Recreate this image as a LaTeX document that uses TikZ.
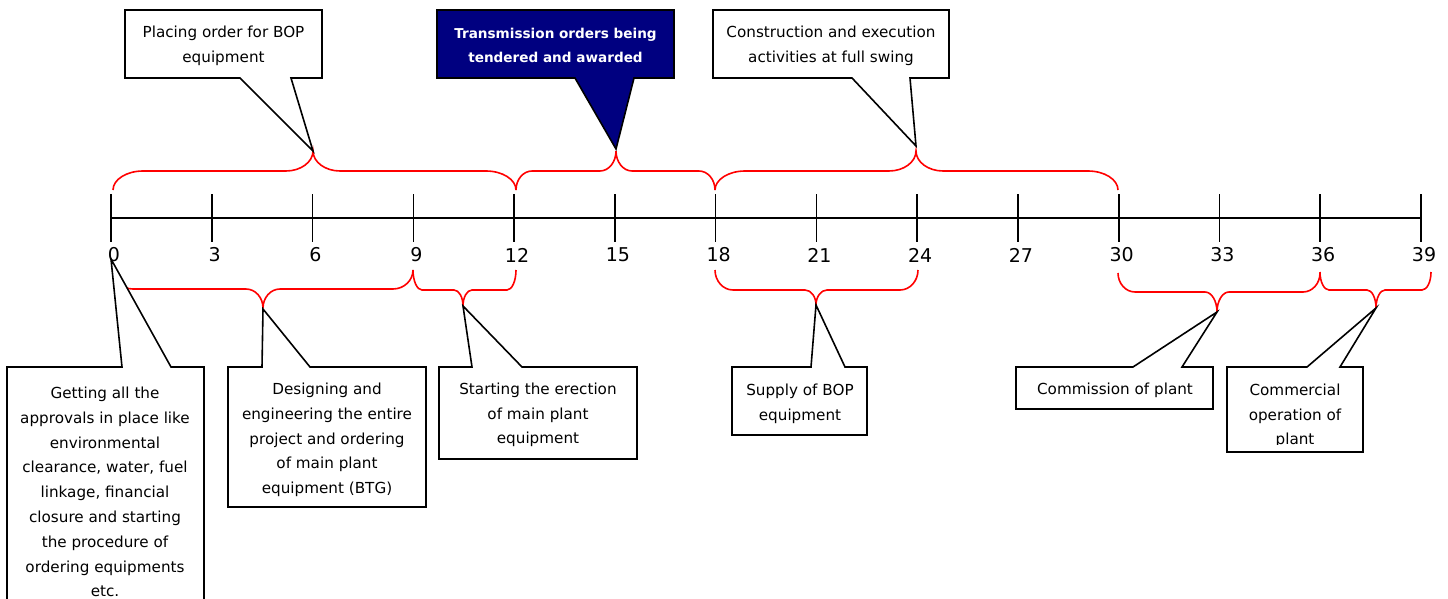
\documentclass[tikz,border=0pt]{standalone}
\usepackage{fontspec}
\setmainfont{DejaVu Sans}
\definecolor{navyfill}{RGB}{0,0,128}
\newcommand\bodyfont{\fontsize{15.2}{24.8}\selectfont}
\newcommand\boldfont{\fontsize{13.6}{24.8}\selectfont\bfseries}
\newcommand\labfont{\fontsize{19}{22}\selectfont}
% brace: x1, x2, xtip, yend, ymid, ytip, corner r, tip s
\newcommand\redbrace[8]{%
  \draw[bracestyle] (#1,#4) .. controls (#1,{#4+0.55*(#5-#4)}) and ({#1+0.45*#7},#5) .. ({#1+#7},#5)
   -- ({#3-#8},#5) .. controls ({#3-0.45*#8},#5) and (#3,{#6+0.55*(#5-#6)}) .. (#3,#6)
   .. controls (#3,{#6+0.55*(#5-#6)}) and ({#3+0.45*#8},#5) .. ({#3+#8},#5)
   -- ({#2-#7},#5) .. controls ({#2-0.45*#7},#5) and (#2,{#4+0.55*(#5-#4)}) .. (#2,#4);}
% top callout: L R T B b1 b2 tip style
\newcommand\topcall[8]{%
  \draw[#8] (#1,#3) -- (#2,#3) -- (#2,#4) -- (#6,#4) -- (#7) -- (#5,#4) -- (#1,#4) -- cycle;}
% bottom callout: L R T B b1 b2 tip
\newcommand\botcall[7]{%
  \draw[callout] (#1,#3) -- (#5,#3) -- (#7) -- (#6,#3) -- (#2,#3) -- (#2,#4) -- (#1,#4) -- cycle;}
\tikzset{
  callout/.style={draw=black, line width=1.6pt, fill=white, line join=miter},
  navycall/.style={callout, fill=navyfill},
  bracestyle/.style={draw=red, line width=1.6pt},
  axisline/.style={draw=black, line width=1.2pt},
  tickline/.style={draw=black, line width=1.6pt},
  txt/.style={align=center, inner sep=0pt, font=\bodyfont},
  btxt/.style={align=center, inner sep=0pt, font=\boldfont, text=white},
  ticklabel/.style={inner sep=0pt, font=\labfont},
}
\begin{document}
\begin{tikzpicture}[x=1pt,y=-1pt]
\useasboundingbox (0,0) rectangle (1448,599);
\fill[white] (0,0) rectangle (1448,599);

% axis
\foreach \k [evaluate=\k as \v using int(3*\k)] in {0,...,13}{
  \coordinate (a\k) at ({111+\k*100.769},218);
  \draw[tickline] ({111+\k*100.769},194) -- ({111+\k*100.769},242);
  \node[ticklabel] (l\k) at ({114+\k*100.769},255) {\v};
}
\draw[axisline] (a0) -- (a13);

% brace tips
\coordinate (tb1) at (313,151);
\coordinate (tb2) at (616,149);
\coordinate (tb3) at (916,146);
\coordinate (bb1) at (263,309);
\coordinate (bb2) at (463,306);
\coordinate (bb3) at (816,305);
\coordinate (bb4) at (1217,312);
\coordinate (bb5) at (1376,308);
\coordinate (bb0) at (111,259);

% top braces
\redbrace{113}{516}{313}{190}{171}{151}{30}{27}
\redbrace{516}{715}{616}{190}{171}{151}{16}{16}
\redbrace{715}{1118}{916}{190}{171}{151}{30}{27}
% bottom braces
\redbrace{113}{413}{263}{270}{289}{308}{20}{17}
\redbrace{413}{516}{463}{270}{290}{306}{9}{9}
\redbrace{715}{918}{816}{270}{290}{305}{18}{11}
\redbrace{1118}{1320}{1217}{273}{292}{312}{17}{12}
\redbrace{1320}{1431}{1376}{272}{290}{308}{9}{9}

% top callouts
\topcall{125}{322}{10}{78}{240}{291}{tb1}{callout}
\node[txt] (c1) at (223.5,45.5) {Placing order for BOP\\equipment};
\topcall{437}{674}{10}{78}{575}{634}{tb2}{navycall}
\node[btxt] (c2) at (555.5,45.5) {Transmission orders being\\tendered and awarded};
\topcall{713}{949}{10}{78}{852}{910}{tb3}{callout}
\node[txt] (c3) at (831,45.5) {Construction and execution\\activities at full swing};

% bottom callouts
\botcall{7}{204}{367}{640}{122}{171}{bb0}
\node[txt] (d1) at (105,492) {Getting all the\\approvals in place like\\environmental\\clearance, water, fuel\\linkage, financial\\closure and starting\\the procedure of\\ordering equipments\\etc.};
\botcall{228}{426}{367}{507}{262}{310}{bb1}
\node[txt] (d2) at (327,440) {Designing and\\engineering the entire\\project and ordering\\of main plant\\equipment (BTG)};
\botcall{439}{637}{367}{459}{472}{522}{bb2}
\node[txt] (d3) at (538,415) {Starting the erection\\of main plant\\equipment};
\botcall{732}{867}{367}{435}{811}{845}{bb3}
\node[txt] (d4) at (800,403.5) {Supply of BOP\\equipment};
\botcall{1016}{1213}{367}{409}{1133}{1182}{bb4}
\node[txt] (d5) at (1115,390) {Commission of plant};
\botcall{1227}{1363}{367}{452}{1307}{1340}{bb5}
\begin{scope}
  \clip (1228,368) rectangle (1362,444);
  \node[txt] (d6) at (1295,416) {Commercial\\operation of\\plant};
\end{scope}
\end{tikzpicture}
\end{document}
